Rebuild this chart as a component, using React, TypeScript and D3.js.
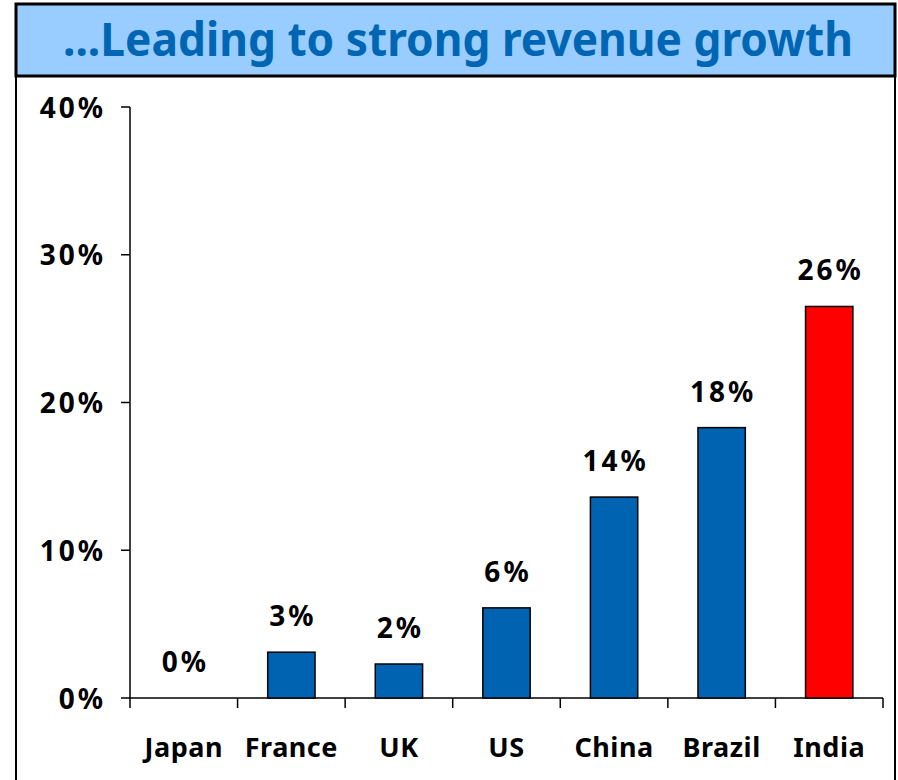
import React from 'react';
import * as d3 from 'd3';

// chart data
const countries = ['Japan', 'France', 'UK', 'US', 'China', 'Brazil', 'India'];
const growth = [0, 3.1, 2.3, 6.1, 13.6, 18.3, 26.5];
const growthLabels = ['0%', '3%', '2%', '6%', '14%', '18%', '26%'];
const yTicks = [0, 10, 20, 30, 40];
const highlight = 'India';

const W = 898;
const H = 780;
const left = 130;
const right = 883;
const top = 107;
const bottom = 698;

const App = () => {
  const x = d3.scaleBand<string>().domain(countries).range([left, right]).paddingInner(0.56).paddingOuter(0.28);
  const band = d3.scaleBand<string>().domain(countries).range([left, right]);
  const y = d3.scaleLinear().domain([0, 40]).range([bottom, top]);
  const font = "'Noto Sans', 'DejaVu Sans', sans-serif";

  return (
    <svg width={W} height={H} style={{ position: 'absolute', left: 0, top: 0, background: 'white' }}>
      {/* frame + title */}
      <rect x={16} y={4} width={879} height={72} fill="#99ccff" stroke="black" strokeWidth={3} />
      <line x1={16} y1={77} x2={16} y2={H} stroke="black" strokeWidth={2} />
      <line x1={895} y1={77} x2={895} y2={H} stroke="black" strokeWidth={2} />
      <text x={458} y={56} textAnchor="middle" fill="#0066b3" fontFamily={font}
        fontWeight="bold" fontSize={46} textLength={790} lengthAdjust="spacingAndGlyphs">
        ...Leading to strong revenue growth
      </text>

      {/* y axis */}
      <line x1={left} y1={top} x2={left} y2={bottom} stroke="black" strokeWidth={1.5} />
      {yTicks.map(t => (
        <g key={t}>
          <line x1={left - 9} x2={left} y1={y(t)} y2={y(t)} stroke="black" strokeWidth={1.5} />
          <text x={106} y={y(t) + 10.5} textAnchor="end" fontFamily={font} fontWeight="bold" fontSize={28}
            letterSpacing={3} fill="black">{t}%</text>
        </g>
      ))}

      {/* x axis */}
      <line x1={left} y1={bottom} x2={right} y2={bottom} stroke="black" strokeWidth={1.5} />
      {[...countries.map(c => band(c) as number), right].map((v, i) => (
        <line key={i} x1={v} x2={v} y1={bottom} y2={bottom + 10} stroke="black" strokeWidth={1.5} />
      ))}
      {countries.map(c => (
        <text key={c} x={(band(c) as number) + band.bandwidth() / 2} y={757} textAnchor="middle"
          fontFamily={font} fontWeight="bold" fontSize={27} letterSpacing={0.5} fill="black">{c}</text>
      ))}

      {/* bars */}
      {countries.map((c, i) => (
        <g key={c}>
          {growth[i] > 0 && (
            <rect x={x(c)} y={y(growth[i])} width={x.bandwidth()} height={bottom - y(growth[i])}
              fill={c === highlight ? '#ff0000' : '#0063b1'} stroke="black" strokeWidth={1.5} />
          )}
          <text x={(x(c) as number) + x.bandwidth() / 2 + 1.5} y={y(growth[i]) - 26} textAnchor="middle"
            fontFamily={font} fontWeight="bold" fontSize={28} letterSpacing={3} fill="black">
            {growthLabels[i]}
          </text>
        </g>
      ))}
    </svg>
  );
};

export default App;
